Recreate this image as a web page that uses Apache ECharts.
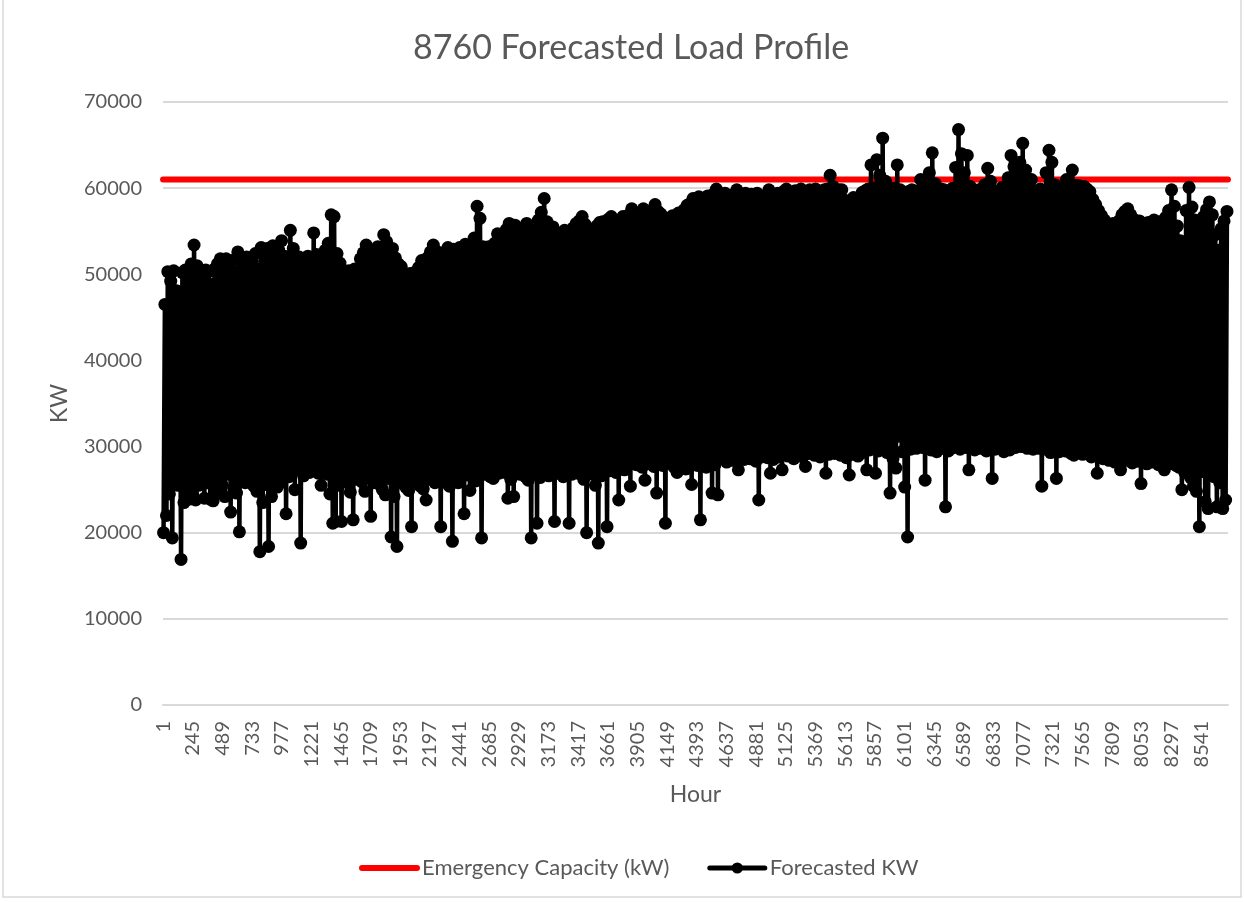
<!DOCTYPE html>
<html>
<head>
<meta charset="utf-8">
<script src="https://cdn.jsdelivr.net/npm/echarts@6/dist/echarts.min.js"></script>
<style>
html,body{margin:0;padding:0;background:#fff;}
#chart{width:1245px;height:902px;}
</style>
</head>
<body>
<div id="chart"></div>
<script>
// ---- data ----
const TITLE = '8760 Forecasted Load Profile';
const CAPACITY_NAME = 'Emergency Capacity (kW)';
const LOAD_NAME = 'Forecasted KW';
const emergencyCapacity = 61000;
const hourCount = 8760;
const labelEvery = 244;              // tick labels: 1, 245, 489, ...
const yTicks = [0, 10000, 20000, 30000, 40000, 50000, 60000, 70000];
const LOW_HOUR = 4;                   // hour of day of the daily minimum
const PEAK_HOUR = 15;                 // hour of day of the daily maximum

// daily peak load (kW), day 1..365
const dailyPeak = [
46500,50300,49200,50400,48100,47500,50200,50500,49800,51200,
53400,51000,50200,49500,50500,50300,48800,50600,51200,51800,
51500,51800,50900,51600,50200,52600,51900,50800,52000,51800,
51500,52400,50600,53100,52700,53000,52200,53300,51900,52800,
53900,52100,51600,55100,53000,51400,52000,51800,50700,52100,
51900,54800,52300,50900,51600,52800,53600,56900,56700,52400,
51300,50500,49800,50400,50200,50600,49600,51800,52500,53400,
52100,51600,52600,53200,52400,54600,53800,52300,53000,51900,
51200,50900,50100,49800,50100,49700,50300,50800,51600,51200,
51900,52600,53400,52700,51800,52300,52600,53100,52400,52900,
52800,53100,52500,53500,52700,53300,54200,57900,56500,53200,
53000,53200,52400,53600,54700,53900,54300,55200,55900,55100,
55700,54600,55200,54800,55900,55300,54200,55000,56300,57200,
58800,56100,54900,55500,54300,54800,54600,55100,54200,54900,
55400,55900,56200,56700,55800,55300,55000,54700,55600,56000,
56100,55800,56400,56700,56200,55900,56300,56700,56100,56900,
57600,56800,57100,56500,57600,57200,56900,57400,58100,57300,
57000,56600,56200,56000,56800,56500,57100,56700,57500,58000,
58200,58800,58400,59000,58300,58700,59100,58600,59300,59900,
59200,58700,59400,59000,58800,59300,59800,59100,58600,59400,
59000,59300,58900,59400,59100,58700,59200,59800,59300,59000,
59400,59100,59600,59900,59300,59500,59700,59200,59900,59600,
59500,59800,59600,59900,59700,59400,59800,59900,61500,60200,
59700,59800,59800,58600,57800,58400,58900,58200,58800,59500,
59700,59900,62700,60000,63300,61500,65800,60800,59600,59900,
60000,62700,59800,59500,59300,59600,59800,59400,59700,61000,
59600,60000,61800,64100,60500,59700,59900,59800,59400,59700,
60000,62400,66800,64000,61800,63800,60200,59600,59500,59800,
59900,60400,62300,60800,59700,59600,59400,60100,59800,61200,
63800,62500,61700,63000,65200,62100,60300,61000,59700,59500,
59900,59600,61800,64400,63000,60400,58000,59300,60000,61000,
59800,62100,60300,60300,59700,60200,59900,59600,58700,58100,
57400,56800,56300,55700,55200,55900,55500,56200,56900,57300,
57600,56900,56400,55800,56200,55600,55900,56000,55400,56300,
56100,55800,56200,56600,57400,59800,57900,55600,53900,53200,
57400,60100,57800,56300,55100,55800,56700,57500,58400,56900,
54600,52800,55300,56200,57300
];

// daily minimum load (kW), day 1..365
const dailyLow = [
20000,22000,24500,19400,26000,25500,16900,23500,24800,23900,
24500,23800,25500,26500,24000,25800,23900,23700,26000,24800,
25600,24200,26800,22400,25200,24600,20100,26300,25800,26800,
26000,25400,24800,17800,23500,25600,18400,24200,26100,25300,
25800,26200,22200,26500,27000,25000,27400,18800,26600,27100,
27000,28000,28400,26900,25500,27600,26800,24500,21100,21300,
25500,21300,26100,25800,24700,21500,26200,27000,25900,24800,
26400,21900,25800,26900,25600,25000,24400,26300,19500,24200,
18400,25800,26700,25300,24900,20700,26100,26500,25400,25100,
23800,26200,27000,25800,26300,20700,25900,26600,25400,19000,
26400,25800,26900,22200,26700,24900,27200,26000,26500,19400,
26800,27100,26500,26300,27400,26900,27600,27000,24000,26200,
24200,27300,26800,27100,26500,26100,19400,26900,21100,26400,
26800,27200,26600,27400,21300,26900,27300,26500,27000,21100,
26800,27300,26900,27500,26200,20000,27100,26800,25500,18800,
26600,27400,20700,27200,27800,27000,23800,27600,27300,28000,
25400,28200,27900,28400,27600,26100,28300,28000,27700,24600,
28100,27800,21100,28400,28000,27600,27000,28300,27900,27400,
27500,25600,28300,27800,21500,28100,27600,28400,24600,27900,
24400,28600,28900,28200,28700,28400,29000,27300,28800,28500,
28900,28600,29100,28300,23800,28800,29200,28700,26900,28500,
29000,28800,27300,29300,28900,29100,28600,29400,29000,28800,
27700,29200,29500,29000,29300,28800,29600,26900,29100,29400,
29200,29500,29000,29300,28700,26700,29100,29400,28900,29200,
29400,27300,29600,29800,26900,29500,30100,29700,29300,24600,
28600,27500,31200,29400,25300,19500,29700,30200,29800,30400,
29900,26100,30300,29600,30100,29400,30000,29800,23000,29500,
29800,30100,30400,29700,30200,29900,27300,30000,29600,30300,
29800,30200,29500,30000,26300,29700,30100,29900,29400,30000,
29600,30200,29900,30300,30000,30400,29800,30100,29700,29900,
29800,25400,30000,29600,29300,30100,26300,29400,29900,29500,
29700,29200,29000,29400,29800,29100,29500,29300,28800,29000,
26900,28900,28600,29100,28400,28800,28200,28700,27300,28500,
28400,28700,28100,28600,28300,25700,28500,28000,28400,28200,
28300,27900,28200,27300,28100,28400,28000,27800,27600,25000,
27000,27700,26400,25400,24800,20700,27100,23600,22800,26900,
26500,23000,25800,22800,23800
];

// ---- build library inputs ----
const hourLabels = [];
for (let i = 1; i <= hourCount; i++) hourLabels.push(String(i));

const loadData = [];
for (let d = 0; d < dailyPeak.length; d++) {
  loadData.push([d * 24 + LOW_HOUR, dailyLow[d]]);
  loadData.push([d * 24 + PEAK_HOUR, dailyPeak[d]]);
}
const capacityData = [[0, emergencyCapacity], [hourCount - 1, emergencyCapacity]];

const FONT = 'Lato, "Open Sans", sans-serif';
const TXT = '#595959';
const GRID = '#d9d9d9';

const chart = echarts.init(document.getElementById('chart'), null, {renderer: 'canvas'});
chart.setOption({
  animation: false,
  backgroundColor: '#ffffff',
  title: {
    text: TITLE,
    left: 413,
    top: 31,
    padding: 0,
    textStyle: {fontFamily: FONT, fontSize: 34, fontWeight: 'normal', color: TXT}
  },
  legend: {
    data: [
      {name: CAPACITY_NAME, itemStyle: {opacity: 0}, lineStyle: {width: 6, color: '#ff0000', cap: 'round'}},
      {name: LOAD_NAME, lineStyle: {width: 5, color: '#000000', cap: 'round'}}
    ],
    left: 354,
    top: 852,
    itemWidth: 55,
    itemHeight: 14,
    itemGap: 38,
    textStyle: {fontFamily: FONT, fontSize: 22, color: TXT}
  },
  grid: {left: 163, right: 17, top: 102, bottom: 197, containLabel: false},
  xAxis: {
    type: 'category',
    data: hourLabels,
    boundaryGap: true,
    name: 'Hour',
    nameLocation: 'middle',
    nameGap: 78,
    nameTextStyle: {fontFamily: FONT, fontSize: 23, color: TXT},
    axisLine: {show: true, lineStyle: {color: GRID, width: 2}},
    axisTick: {show: false},
    splitLine: {show: false},
    axisLabel: {
      interval: labelEvery - 1,
      rotate: 90,
      margin: 16,
      fontFamily: FONT,
      fontSize: 20,
      color: TXT
    }
  },
  yAxis: {
    type: 'value',
    min: yTicks[0],
    max: yTicks[yTicks.length - 1],
    interval: yTicks[1] - yTicks[0],
    name: 'KW',
    nameLocation: 'middle',
    nameRotate: 90,
    nameGap: 92,
    nameTextStyle: {fontFamily: FONT, fontSize: 23, color: TXT},
    axisLine: {show: false},
    axisTick: {show: false},
    splitLine: {show: true, lineStyle: {color: GRID, width: 2}},
    axisLabel: {
      margin: 21, fontFamily: FONT, fontSize: 20, color: TXT,
      formatter: function (v) { return String(v); }
    }
  },
  series: [
    {
      name: CAPACITY_NAME,
      type: 'line',
      data: capacityData,
      symbol: 'none',
      lineStyle: {color: '#ff0000', width: 6, cap: 'round'},
      itemStyle: {color: '#ff0000'},
      z: 2
    },
    {
      name: LOAD_NAME,
      type: 'line',
      data: loadData,
      symbol: 'circle',
      symbolSize: 13,
      showSymbol: true,
      showAllSymbol: true,
      sampling: null,
      lineStyle: {color: '#000000', width: 4.5},
      itemStyle: {color: '#000000', borderWidth: 0},
      z: 3
    }
  ],
  graphic: [{
    type: 'rect',
    shape: {x: 3, y: -2, width: 1238, height: 899},
    style: {fill: 'none', stroke: GRID, lineWidth: 1.5},
    silent: true,
    z: -10
  }]
});
</script>
</body>
</html>
